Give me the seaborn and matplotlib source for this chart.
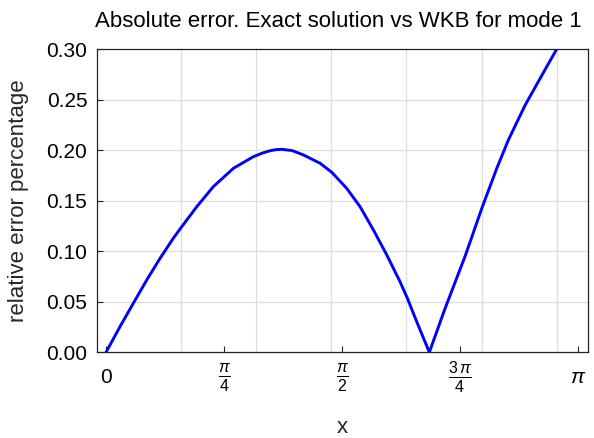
import numpy as np
import pandas as pd
import matplotlib
matplotlib.use("Agg")
import matplotlib.pyplot as plt
import seaborn as sns
from matplotlib.ticker import MultipleLocator, FixedLocator, FixedFormatter, FormatStrFormatter

x_vals = [0.0, 0.093, 0.182, 0.271, 0.360, 0.448, 0.504, 0.604, 0.714, 0.848, 0.981, 1.040, 1.092,
          1.130, 1.170, 1.240, 1.314, 1.425, 1.503, 1.602, 1.691, 1.780, 1.869, 1.957, 2.006, 2.068,
          2.152, 2.257, 2.390, 2.505, 2.601, 2.678, 2.790, 2.901, 3.000]
err_vals = [0.0, 0.0253, 0.0485, 0.0715, 0.093, 0.1128, 0.1242, 0.144, 0.1638, 0.182, 0.1935, 0.197,
            0.1994, 0.2004, 0.2008, 0.1995, 0.1952, 0.187, 0.178, 0.1622, 0.144, 0.121, 0.0962, 0.0698,
            0.0534, 0.0303, 0.0, 0.0435, 0.095, 0.144, 0.182, 0.21, 0.2446, 0.274, 0.300]
xtick_vals = [0, np.pi / 4, np.pi / 2, 3 * np.pi / 4, np.pi]
xtick_labels = [r"$0$", r"$\frac{\pi}{4}$", r"$\frac{\pi}{2}$", r"$\frac{3\,\pi}{4}$", r"$\pi$"]

df = pd.DataFrame({"x": x_vals, "err": err_vals})

sns.set_style("white")
plt.rcParams["font.family"] = ["Liberation Sans", "DejaVu Sans"]
plt.rcParams["text.color"] = "black"
plt.rcParams["mathtext.fontset"] = "custom"
plt.rcParams["mathtext.rm"] = "Liberation Sans"
plt.rcParams["mathtext.it"] = "Liberation Sans:italic"

fig = plt.figure(figsize=(5.94, 4.38), dpi=100)
ax = fig.add_axes([0.1625, 0.1957, 0.8279, 0.6924])

sns.lineplot(data=df, x="x", y="err", ax=ax, color=(0, 0, 1), linewidth=2.1,
             estimator=None, sort=False)
for ln in ax.lines:
    ln.set_solid_joinstyle("round")

ax.set_xlim(-0.063, 3.21)
ax.set_ylim(0, 0.30)

# grid
for gx in [0.5, 1.0, 1.5, 2.0, 2.5, 3.0]:
    ax.axvline(gx, color="#dddddd", lw=0.9, zorder=0)
for gy in [0.05, 0.10, 0.15, 0.20, 0.25]:
    ax.axhline(gy, color="#dddddd", lw=0.9, zorder=0)

ax.xaxis.set_major_locator(FixedLocator(xtick_vals))
ax.xaxis.set_major_formatter(FixedFormatter(xtick_labels))
ax.yaxis.set_major_locator(MultipleLocator(0.05))
ax.yaxis.set_minor_locator(MultipleLocator(0.01))
ax.yaxis.set_major_formatter(FormatStrFormatter("%.2f"))

ax.tick_params(axis="both", which="major", direction="in", length=4.5, width=0.8,
               labelsize=15, colors="#222222", labelcolor="black")
ax.tick_params(axis="y", which="major", pad=6.6)
ax.tick_params(axis="y", which="minor", direction="in", length=2.5, width=0.6, colors="#222222")
ax.tick_params(axis="x", which="major", pad=18)
for i, lab in enumerate(ax.get_xticklabels()):
    lab.set_va("center")
    if i in (1, 2, 3):
        lab.set_fontsize(16.5)
ax.tick_params(left=True, bottom=True)

for s in ax.spines.values():
    s.set_color("#222222")
    s.set_linewidth(0.9)
    s.set_visible(True)

ax.set_xlabel("x", fontsize=16)
ax.xaxis.set_label_coords(0.5, -0.2496)
ax.xaxis.label.set_va("center")
ax.set_ylabel("relative error percentage", fontsize=16)
ax.yaxis.set_label_coords(-0.1596, 0.5)
ax.yaxis.label.set_va("center")
fig.text(0.570, 0.952, "Absolute error. Exact solution vs WKB for mode 1", fontsize=16,
         ha="center", va="center")

fig.savefig("out.png", dpi=100)
